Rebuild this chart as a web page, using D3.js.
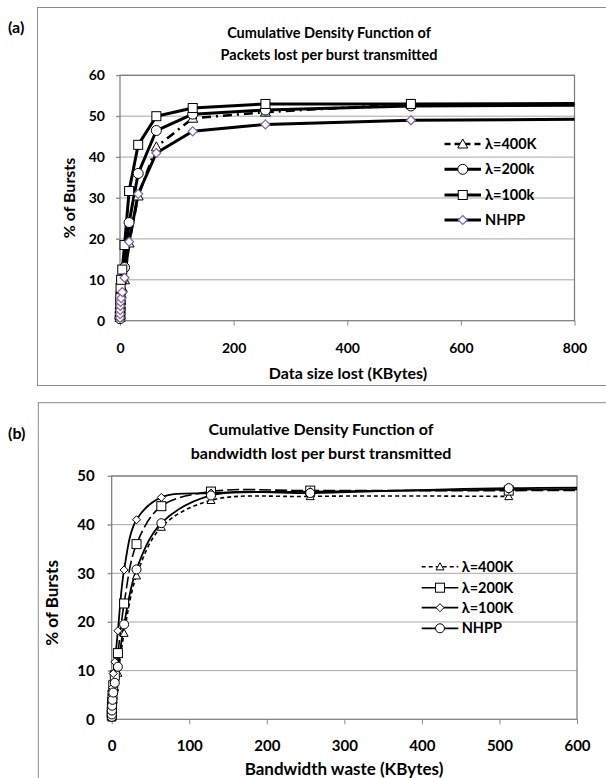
<!DOCTYPE html>
<html><head><meta charset="utf-8">
<script src="https://cdn.jsdelivr.net/npm/d3@7/dist/d3.min.js"></script>
<style>body{margin:0;background:#fff}svg{display:block}text{font-family:Lato,"Open Sans",sans-serif;font-weight:700;fill:#000}</style>
</head><body><svg id="c" width="606" height="778"></svg>
<script>
// ---------- data ----------
const xVals = [0.0625,0.125,0.25,0.5,1,2,4,8,16,32,64,128,256,512,1024];
// panel (a): % of bursts vs data size lost
const a400K = [0.8,1.5,2.5,3.5,5,6.5,8,10,19,30.5,42.5,49.5,51,53,null];
const a200k = [0.5,1,2,3,4.5,7,10,13,24,36,46.5,50.5,51.5,52.5,52.8];
const a100k = [1.5,2.5,4,5.5,8,10,12.5,18.5,31.7,43,50,52,53,53,53.2];
const aNHPP = [0.7,1.6,2.6,3.6,4.6,5.5,7,10.5,19.3,31,41,46.3,48,49,49.4];
// panel (b): % of bursts vs bandwidth waste
const b400K = [0.3,0.6,1,1.5,2.5,4,6.5,9.5,17.7,29.5,39.5,45,45.8,45.8,null];
const b200K = [0.8,1.5,2.5,3.5,5,7,9,13.6,23.8,36,43.8,46.8,47,47,47.3];
const b100K = [1,2,3.5,5,6.5,9.4,11.8,18.2,30.7,41,45.6,46.5,46.8,47.2,47.6];
const bNHPP = [0.5,1,1.8,2.8,4,5.5,7.5,10.8,19.5,30.8,40.3,46,46.5,47.5,47.6];
const aXTicks = [0,200,400,600,800];
const aYTicks = [0,10,20,30,40,50,60];
const bXTicks = [0,100,200,300,400,500,600];
const bYTicks = [0,10,20,30,40,50];
const aNames = ["λ=400K","λ=200k","λ=100k","NHPP"];
const bNames = ["λ=400K","λ=200K","λ=100K","NHPP"];

const svg = d3.select("#c");

function marker(g, type, size, stroke, sw){
  const s=size/2;
  if(type==="tri") return g.append("path").attr("d",`M0,${-s}L${s},${s*0.8}L${-s},${s*0.8}Z`).attr("fill","#fff").attr("stroke",stroke).attr("stroke-width",sw);
  if(type==="sq") return g.append("rect").attr("x",-s).attr("y",-s).attr("width",size).attr("height",size).attr("fill","#fff").attr("stroke",stroke).attr("stroke-width",sw);
  if(type==="cir") return g.append("circle").attr("r",s).attr("fill","#fff").attr("stroke",stroke).attr("stroke-width",sw);
  if(type==="dia") return g.append("path").attr("d",`M0,${-s}L${s},0L0,${s}L${-s},0Z`).attr("fill","#fff").attr("stroke",stroke).attr("stroke-width",sw);
}

function panel(cfg){
  // outer box
  svg.append("rect").attr("x",cfg.box[0]).attr("y",cfg.box[1]).attr("width",cfg.box[2]).attr("height",cfg.box[3])
    .attr("fill","none").attr("stroke","#8c8c8c").attr("stroke-width",1);
  svg.append("text").attr("x",cfg.label[0]).attr("y",cfg.label[1]).attr("dy","0.35em").style("font-size","16px").text(cfg.labelText);
  const x=d3.scaleLinear().domain(cfg.xd).range([cfg.L,cfg.R]);
  const y=d3.scaleLinear().domain(cfg.yd).range([cfg.B,cfg.T]);
  // grid
  svg.append("g").selectAll("line").data(cfg.yTicks.slice(1)).join("line")
    .attr("x1",cfg.L-4).attr("x2",cfg.R).attr("y1",d=>y(d)).attr("y2",d=>y(d)).attr("stroke","#a6a6a6").attr("stroke-width",1);
  // axes
  const xa=svg.append("g").attr("transform",`translate(0,${cfg.B})`).call(d3.axisBottom(x).tickValues(cfg.xTicks).tickSize(5).tickPadding(cfg.xPad));
  xa.select(".domain").remove();
  xa.selectAll("line").attr("stroke","#8c8c8c");
  xa.selectAll("text").style("font-size",cfg.tickFs+"px").style("font-family","Lato").style("font-weight",700);
  const ya=svg.append("g").attr("transform",`translate(${cfg.L},0)`).call(d3.axisLeft(y).tickValues(cfg.yTicks).tickSize(4).tickPadding(cfg.yPad));
  ya.select(".domain").remove();
  ya.selectAll("line").attr("stroke","#8c8c8c");
  ya.selectAll("text").style("font-size",cfg.tickFs+"px").style("font-family","Lato").style("font-weight",700);
  // plot border
  svg.append("rect").attr("x",cfg.L).attr("y",cfg.T).attr("width",cfg.R-cfg.L).attr("height",cfg.B-cfg.T)
    .attr("fill","none").attr("stroke","#7a7a7a").attr("stroke-width",1.2);
  // titles
  cfg.title.forEach((t,i)=>svg.append("text").attr("x",cfg.titleX).attr("y",cfg.titleY[i]).attr("dy","0.35em").attr("text-anchor","middle").style("font-size",cfg.titleFs+"px").text(t));
  svg.append("text").attr("x",cfg.xTitle[0]).attr("y",cfg.xTitle[1]).attr("dy","0.35em").attr("text-anchor","middle").style("font-size",cfg.axFs+"px").text(cfg.xTitleText);
  svg.append("text").attr("transform",`translate(${cfg.yTitle[0]},${cfg.yTitle[1]}) rotate(-90)`).attr("dy","0.35em").attr("text-anchor","middle").style("font-size",cfg.axFs+"px").text("% of Bursts");
  // clip
  const cid="clip"+cfg.labelText.replace(/\W/g,"");
  svg.append("clipPath").attr("id",cid).append("rect").attr("x",cfg.L-6).attr("y",cfg.T-8).attr("width",cfg.R-cfg.L+6).attr("height",cfg.B-cfg.T+14);
  const plot=svg.append("g").attr("clip-path",`url(#${cid})`);
  const line=d3.line().defined(d=>d[1]!=null).x(d=>x(d[0])).y(d=>y(d[1])).curve(cfg.curve);
  cfg.series.forEach(s=>{
    const pts=xVals.map((xv,i)=>[xv,s.vals[i]]);
    plot.append("path").datum(pts).attr("d",line).attr("fill","none").attr("stroke","#000")
      .attr("stroke-width",s.lw).attr("stroke-dasharray",s.dash||null).attr("stroke-linejoin","round");
  });
  cfg.series.forEach(s=>{
    xVals.forEach((xv,i)=>{
      const v=s.vals[i]; if(v==null||xv>cfg.xd[1]) return;
      marker(plot.append("g").attr("transform",`translate(${x(xv)},${y(v)})`),s.m,s.ms,s.mc,s.msw);
    });
  });
  // legend
  cfg.series.forEach((s,i)=>{
    const ly=cfg.legY[i];
    svg.append("line").attr("x1",cfg.legX[0]).attr("x2",cfg.legX[1]).attr("y1",ly).attr("y2",ly).attr("stroke","#000")
      .attr("stroke-width",s.lw).attr("stroke-dasharray",s.legDash||s.dash||null);
    marker(svg.append("g").attr("transform",`translate(${(cfg.legX[0]+cfg.legX[1])/2},${ly})`),s.m,s.ms,s.mc,s.msw);
    svg.append("text").attr("x",cfg.legX[2]).attr("y",ly).attr("dy","0.35em").style("font-size",cfg.legFs+"px").text(s.name);
  });
}

panel({
  box:[37.5,7.5,570,378], label:[8,27], labelText:"(a)",
  L:120,R:574.5,T:75.3,B:320.7, xd:[0,800], yd:[0,60], xTicks:aXTicks, yTicks:aYTicks,
  xPad:17, yPad:11, tickFs:14,
  title:["Cumulative Density Function of","Packets lost per burst transmitted"], titleX:329, titleY:[32.5,54.5], titleFs:14.5,
  xTitle:[348,373.5], xTitleText:"Data size lost (KBytes)", yTitle:[69,198], axFs:16,
  curve:d3.curveLinear,
  legX:[444.5,481,485], legY:[144,169.3,195,220], legFs:14.5,
  series:[
    {name:aNames[0],vals:a400K,m:"tri",ms:10,mc:"#000",msw:1,lw:2.6,dash:"9,5,2,5",legDash:"6,4"},
    {name:aNames[1],vals:a200k,m:"cir",ms:10,mc:"#000",msw:1,lw:3},
    {name:aNames[2],vals:a100k,m:"sq",ms:9,mc:"#000",msw:1,lw:3},
    {name:aNames[3],vals:aNHPP,m:"dia",ms:9,mc:"#8064a2",msw:1.2,lw:3}
  ]
});

panel({
  box:[38.3,402.7,570,400], label:[8,433], labelText:"(b)",
  L:111.7,R:577,T:476,B:719.3, xd:[0,600], yd:[0,50], xTicks:bXTicks, yTicks:bYTicks,
  xPad:16, yPad:13, tickFs:15,
  title:["Cumulative Density Function of","bandwidth lost per burst transmitted"], titleX:321, titleY:[429.5,453], titleFs:16,
  xTitle:[344,769], xTitleText:"Bandwidth waste (KBytes)", yTitle:[52,603], axFs:17,
  curve:d3.curveCatmullRom.alpha(0.5),
  legX:[421.7,458.3,461.7], legY:[566.7,587.7,607.7,628.3], legFs:14.5,
  series:[
    {name:bNames[0],vals:b400K,m:"tri",ms:8,mc:"#000",msw:1,lw:1.6,dash:"4,3"},
    {name:bNames[1],vals:b200K,m:"sq",ms:9,mc:"#000",msw:1,lw:1.6,dash:"12,4",legDash:"none"},
    {name:bNames[2],vals:b100K,m:"dia",ms:8,mc:"#000",msw:1,lw:1.8},
    {name:bNames[3],vals:bNHPP,m:"cir",ms:9,mc:"#000",msw:1,lw:1.8}
  ]
});
</script></body></html>
